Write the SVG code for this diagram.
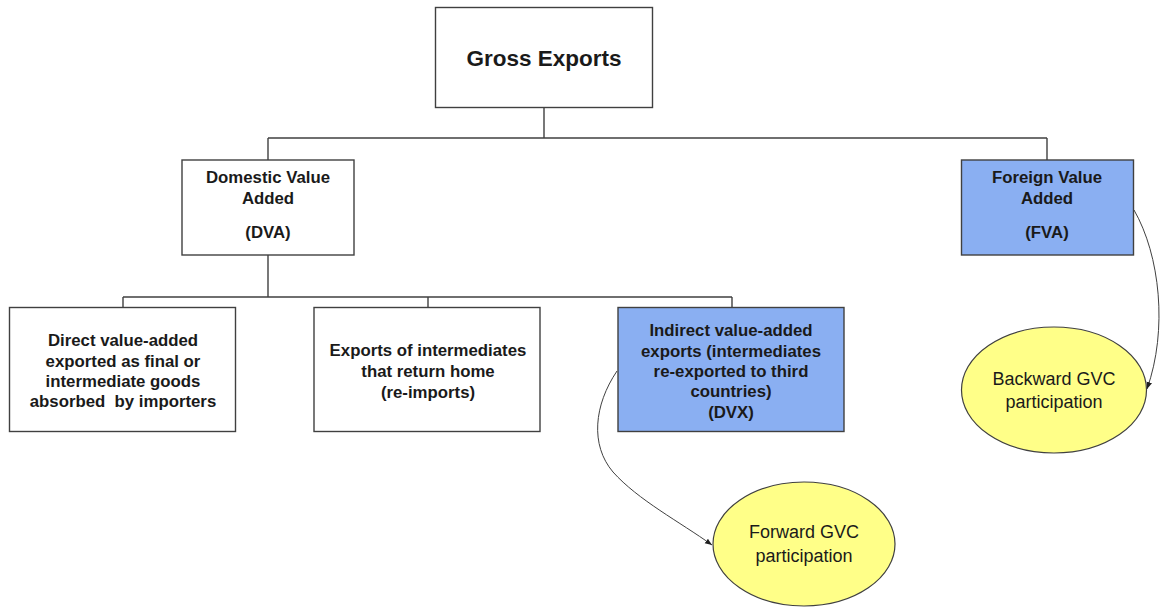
<svg xmlns="http://www.w3.org/2000/svg" width="1161" height="607" viewBox="0 0 1161 607">
<defs>
<style>
.box{fill:#ffffff;stroke:#404040;stroke-width:1.4}
.blue{fill:#8aaff2;stroke:#404040;stroke-width:1.4}
.oval{fill:#ffff88;stroke:#404040;stroke-width:1.2}
.b{font-family:"Liberation Sans",Arial,sans-serif;font-weight:bold;font-size:16.8px;fill:#1a1a1a;text-anchor:middle}
.n{font-family:"Liberation Sans",Arial,sans-serif;font-size:18px;fill:#1a1a1a;text-anchor:middle}
.tree{fill:none;stroke:#404040;stroke-width:1.4}
.curve{fill:none;stroke:#404040;stroke-width:1}
</style>
<marker id="arr" viewBox="0 0 10 10" refX="10" refY="5" markerWidth="7" markerHeight="7" orient="auto" markerUnits="userSpaceOnUse">
<path d="M0,1 L10,5 L0,9 z" fill="#202020"/>
</marker>
</defs>
<rect width="1161" height="607" fill="#ffffff"/>
<g id="connectors">
<path class="tree" d="M544,108 V138 M268,138 H1047 M268,138 V160 M1047,138 V160"/>
<path class="tree" d="M268,255 V297 M123,297 H732 M123,297 V307 M428,297 V307 M732,297 V307"/>
<path class="curve" d="M617,371 C594,405 590,445 613,472 C638,500 680,522 712,545" marker-end="url(#arr)"/>
<path class="curve" d="M1134,210 C1160,255 1168,330 1147,389" marker-end="url(#arr)"/>
</g>
<g id="gross-exports">
<rect class="box" x="435.5" y="7.5" width="217" height="100"/>
<text class="b" x="544" y="66" style="font-size:22.5px">Gross Exports</text>
</g>
<g id="dva">
<rect class="box" x="182" y="160" width="172" height="95"/>
<text class="b" x="268" y="183">Domestic Value</text>
<text class="b" x="268" y="204">Added</text>
<text class="b" x="268" y="238">(DVA)</text>
</g>
<g id="fva">
<rect class="blue" x="961.5" y="160" width="172" height="95"/>
<text class="b" x="1047" y="183">Foreign Value</text>
<text class="b" x="1047" y="204">Added</text>
<text class="b" x="1047" y="238">(FVA)</text>
</g>
<g id="direct">
<rect class="box" x="9.5" y="307.5" width="226" height="124"/>
<text class="b" x="123" y="346">Direct value-added</text>
<text class="b" x="123" y="367">exported as final or</text>
<text class="b" x="123" y="387">intermediate goods</text>
<text class="b" x="123" y="407" xml:space="preserve">absorbed  by importers</text>
</g>
<g id="reimports">
<rect class="box" x="314" y="307.5" width="226" height="124"/>
<text class="b" x="428" y="356">Exports of intermediates</text>
<text class="b" x="428" y="377">that return home</text>
<text class="b" x="428" y="398">(re-imports)</text>
</g>
<g id="dvx">
<rect class="blue" x="618" y="307.5" width="226" height="124"/>
<text class="b" x="731" y="336">Indirect value-added</text>
<text class="b" x="731" y="357">exports (intermediates</text>
<text class="b" x="731" y="377">re-exported to third</text>
<text class="b" x="731" y="397">countries)</text>
<text class="b" x="731" y="418">(DVX)</text>
</g>
<g id="forward">
<ellipse class="oval" cx="804" cy="544" rx="91" ry="62"/>
<text class="n" x="804" y="538">Forward GVC</text>
<text class="n" x="804" y="562">participation</text>
</g>
<g id="backward">
<ellipse class="oval" cx="1054" cy="390" rx="92.5" ry="63"/>
<text class="n" x="1054" y="385">Backward GVC</text>
<text class="n" x="1054" y="408">participation</text>
</g>
</svg>
